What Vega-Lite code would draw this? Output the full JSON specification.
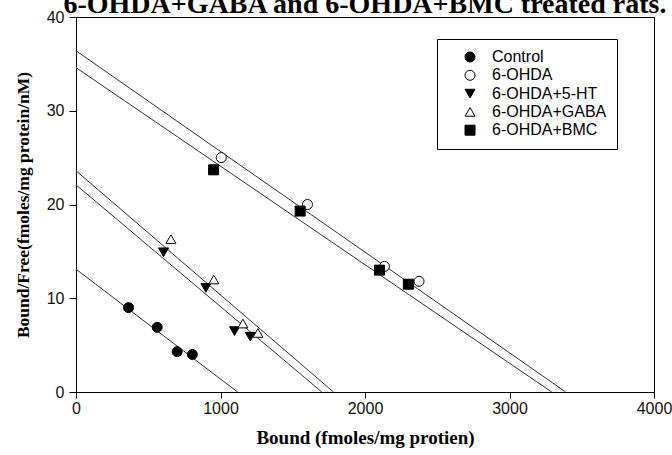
{
  "$schema": "https://vega.github.io/schema/vega-lite/v6.json",
  "width": 578,
  "height": 375,
  "autosize": {"type": "none"},
  "padding": {"left": 76, "top": 17, "right": 18, "bottom": 63},
  "background": "white",
  "title": {
    "text": "6-OHDA+GABA and 6-OHDA+BMC treated rats.",
    "font": "Liberation Serif",
    "fontSize": 28,
    "fontWeight": "bold",
    "color": "black",
    "anchor": "middle",
    "frame": "group",
    "offset": -10
  },
  "config": {
    "view": {"stroke": "black", "strokeWidth": 1},
    "axis": {
      "grid": false,
      "domainColor": "black",
      "tickColor": "black",
      "labelFont": "Liberation Sans",
      "labelFontSize": 16,
      "labelColor": "#111111",
      "titleFont": "Liberation Serif",
      "titleFontWeight": "bold",
      "titleColor": "black",
      "labelFlush": false,
      "labelOverlap": false
    }
  },
  "data": {
    "values": [
      {"kind": "pt", "group": "Control", "x": 364, "y": 9.0},
      {"kind": "pt", "group": "Control", "x": 562, "y": 6.9},
      {"kind": "pt", "group": "Control", "x": 700, "y": 4.3},
      {"kind": "pt", "group": "Control", "x": 805, "y": 4.0},
      {"kind": "pt", "group": "6-OHDA", "x": 1005, "y": 25.0},
      {"kind": "pt", "group": "6-OHDA", "x": 1602, "y": 20.0},
      {"kind": "pt", "group": "6-OHDA", "x": 2134, "y": 13.4},
      {"kind": "pt", "group": "6-OHDA", "x": 2374, "y": 11.8},
      {"kind": "pt", "group": "6-OHDA+5-HT", "x": 606, "y": 14.9},
      {"kind": "pt", "group": "6-OHDA+5-HT", "x": 899, "y": 11.1},
      {"kind": "pt", "group": "6-OHDA+5-HT", "x": 1097, "y": 6.5},
      {"kind": "pt", "group": "6-OHDA+5-HT", "x": 1206, "y": 5.9},
      {"kind": "pt", "group": "6-OHDA+GABA", "x": 657, "y": 16.3},
      {"kind": "pt", "group": "6-OHDA+GABA", "x": 954, "y": 12.0},
      {"kind": "pt", "group": "6-OHDA+GABA", "x": 1155, "y": 7.3},
      {"kind": "pt", "group": "6-OHDA+GABA", "x": 1259, "y": 6.3},
      {"kind": "pt", "group": "6-OHDA+BMC", "x": 952, "y": 23.7},
      {"kind": "pt", "group": "6-OHDA+BMC", "x": 1551, "y": 19.3},
      {"kind": "pt", "group": "6-OHDA+BMC", "x": 2100, "y": 13.0},
      {"kind": "pt", "group": "6-OHDA+BMC", "x": 2300, "y": 11.5},
      {"kind": "line", "group": "Control", "x": 0, "y": 13.1},
      {"kind": "line", "group": "Control", "x": 1118, "y": 0},
      {"kind": "line", "group": "6-OHDA", "x": 0, "y": 36.4},
      {"kind": "line", "group": "6-OHDA", "x": 3389, "y": 0},
      {"kind": "line", "group": "6-OHDA+5-HT", "x": 0, "y": 22.1},
      {"kind": "line", "group": "6-OHDA+5-HT", "x": 1701, "y": 0},
      {"kind": "line", "group": "6-OHDA+GABA", "x": 0, "y": 23.6},
      {"kind": "line", "group": "6-OHDA+GABA", "x": 1782, "y": 0},
      {"kind": "line", "group": "6-OHDA+BMC", "x": 0, "y": 34.6},
      {"kind": "line", "group": "6-OHDA+BMC", "x": 3292, "y": 0}
    ]
  },
  "layer": [
    {
      "transform": [{"filter": "datum.kind === 'line'"}],
      "mark": {"type": "line", "color": "#333333", "strokeWidth": 1, "clip": true},
      "encoding": {
        "x": {"field": "x", "type": "quantitative"},
        "y": {"field": "y", "type": "quantitative"},
        "detail": {"field": "group"}
      }
    },
    {
      "transform": [{"filter": "datum.kind === 'pt'"}],
      "mark": {"type": "point", "filled": true, "strokeWidth": 1, "size": 100, "opacity": 1},
      "encoding": {
        "x": {
          "field": "x", "type": "quantitative",
          "scale": {"domain": [0, 4000], "nice": false},
          "axis": {"values": [0, 1000, 2000, 3000, 4000], "format": "d", "tickSize": 6, "labelPadding": 2, "title": "Bound (fmoles/mg protien)", "titleFontSize": 19, "titlePadding": 12}
        },
        "y": {
          "field": "y", "type": "quantitative",
          "scale": {"domain": [0, 40], "nice": false},
          "axis": {"values": [0, 10, 20, 30, 40], "format": "d", "tickSize": 7, "labelPadding": 5, "title": "Bound/Free(fmoles/mg protein/nM)", "titleFontSize": 17.5, "titlePadding": 14}
        },
        "shape": {
          "field": "group", "type": "nominal",
          "scale": {"domain": ["Control", "6-OHDA", "6-OHDA+5-HT", "6-OHDA+GABA", "6-OHDA+BMC"], "range": ["circle", "circle", "triangle-down", "triangle-up", "square"]},
          "legend": {"orient": "none", "legendX": 361, "legendY": 22, "title": null, "strokeColor": "black", "fillColor": "white", "padding": 10, "symbolOffset": 15, "labelOffset": 14, "labelFont": "Liberation Sans", "labelFontSize": 16, "labelColor": "black", "rowPadding": 2.3, "symbolSize": 100, "symbolStrokeWidth": 1}
        },
        "fill": {
          "field": "group", "type": "nominal",
          "scale": {"domain": ["Control", "6-OHDA", "6-OHDA+5-HT", "6-OHDA+GABA", "6-OHDA+BMC"], "range": ["black", "white", "black", "white", "black"]},
          "legend": {"orient": "none", "legendX": 361, "legendY": 22, "title": null, "strokeColor": "black", "fillColor": "white", "padding": 10, "symbolOffset": 15, "labelOffset": 14, "labelFont": "Liberation Sans", "labelFontSize": 16, "labelColor": "black", "rowPadding": 2.3, "symbolSize": 100, "symbolStrokeWidth": 1}
        },
        "stroke": {
          "field": "group", "type": "nominal",
          "scale": {"domain": ["Control", "6-OHDA", "6-OHDA+5-HT", "6-OHDA+GABA", "6-OHDA+BMC"], "range": ["black", "black", "black", "black", "black"]},
          "legend": {"orient": "none", "legendX": 361, "legendY": 22, "title": null, "strokeColor": "black", "fillColor": "white", "padding": 10, "symbolOffset": 15, "labelOffset": 14, "labelFont": "Liberation Sans", "labelFontSize": 16, "labelColor": "black", "rowPadding": 2.3, "symbolSize": 100, "symbolStrokeWidth": 1}
        }
      }
    }
  ]
}
